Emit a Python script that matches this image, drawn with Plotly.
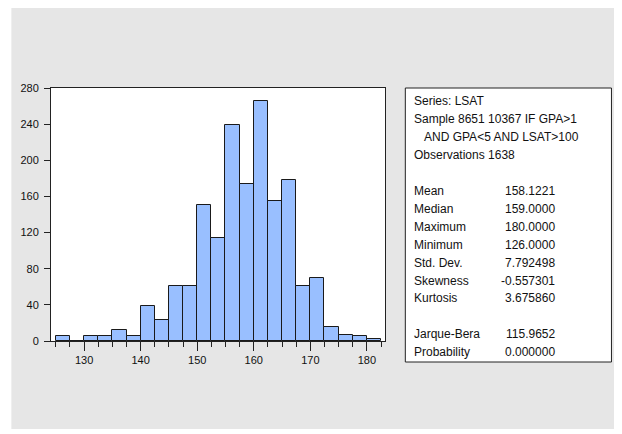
import plotly.graph_objects as go

# ---- data ----
bin_width = 2.5
bin_starts = [125, 127.5, 130, 132.5, 135, 137.5, 140, 142.5, 145, 147.5, 150, 152.5,
              155, 157.5, 160, 162.5, 165, 167.5, 170, 172.5, 175, 177.5, 180]
counts = [5, 0, 6, 5, 12, 6, 39, 23, 61, 61, 150, 114,
          239, 174, 266, 155, 178, 61, 70, 15, 7, 5, 2]

y_ticks = [0, 40, 80, 120, 160, 200, 240, 280]
x_ticks = [130, 140, 150, 160, 170, 180]

header_lines = ["Series: LSAT", "Sample 8651 10367 IF GPA>1", "   AND GPA<5 AND LSAT>100",
                "Observations 1638"]
stat_names = ["Mean", "Median", "Maximum", "Minimum", "Std. Dev.", "Skewness", "Kurtosis"]
stat_values = ["158.1221", "159.0000", "180.0000", "126.0000", "7.792498", "-0.557301", "3.675860"]
test_names = ["Jarque-Bera", "Probability"]
test_values = ["115.9652", "0.000000"]

# ---- layout geometry (screen pixels; page body has an 8px margin) ----
OFF = 8
W, H = 622, 434
L, R, T, B = 48 - OFF, 385 - OFF, 88 - OFF, 341 - OFF
PW, PH = R - L, B - T


def px(x):
    return (x - OFF - L) / PW


def py(y):
    return (B - (y - OFF)) / PH


centers = [s + bin_width / 2 for s in bin_starts]

fig = go.Figure()
fig.add_trace(go.Bar(
    x=centers, y=counts, width=[bin_width] * len(centers),
    marker=dict(color="#99bfff", line=dict(color="#1a1a1a", width=1)),
    hoverinfo="x+y", showlegend=False,
))

font_family = "Liberation Sans, Arial, sans-serif"

shapes = [
    dict(type="rect", xref="paper", yref="paper", layer="below",
         x0=px(8), x1=px(660), y0=py(429), y1=py(-20),
         fillcolor="#e6e6e6", line=dict(width=0)),
    dict(type="rect", xref="paper", yref="paper", layer="below",
         x0=0, x1=1, y0=0, y1=1, fillcolor="white", line=dict(width=0)),
    dict(type="rect", xref="paper", yref="paper",
         x0=px(405.5), x1=px(613.5), y0=py(362), y1=py(88),
         fillcolor="white", line=dict(color="#222222", width=1)),
]

annotations = []
step = 17.95
y0 = 101
label_x = 412
value_right = 559


def add_text(text, x, y, anchor="left"):
    annotations.append(dict(
        text=text,
        x=px(x), y=py(y), xref="paper", yref="paper",
        xanchor=anchor, yanchor="middle", showarrow=False,
        font=dict(family=font_family, size=12, color="#111111"),
    ))


for i, line in enumerate(header_lines):
    if line.startswith(" "):
        add_text(line.strip(), label_x + 10, y0 + i * step)
    else:
        add_text(line, label_x, y0 + i * step)

for j, (n, v) in enumerate(zip(stat_names, stat_values)):
    yy = y0 + (5 + j) * step
    add_text(n, label_x, yy)
    add_text(v, value_right, yy, anchor="right")

for j, (n, v) in enumerate(zip(test_names, test_values)):
    yy = y0 + (13 + j) * step
    add_text(n, label_x, yy)
    add_text(v, value_right, yy, anchor="right")

fig.update_layout(
    width=W, height=H,
    margin=dict(l=L, r=W - R, t=T, b=H - B, pad=0),
    paper_bgcolor="white", plot_bgcolor="white",
    bargap=0,
    font=dict(family=font_family, size=11, color="#111111"),
    shapes=shapes, annotations=annotations,
    xaxis=dict(
        range=[124.15, 183.2], tickmode="array", tickvals=x_ticks,
        ticktext=[str(t) for t in x_ticks],
        ticks="outside", ticklen=9, tickwidth=1, tickcolor="#222222",
        minor=dict(tickmode="linear", tick0=125, dtick=2.5, ticks="outside",
                   ticklen=5, tickwidth=1, tickcolor="#222222", showgrid=False),
        showline=True, linecolor="#222222", linewidth=1, mirror=True,
        showgrid=False, zeroline=False, fixedrange=True,
        tickfont=dict(size=11),
    ),
    yaxis=dict(
        range=[0, 280], tickmode="array", tickvals=y_ticks,
        ticktext=[str(t) for t in y_ticks],
        ticks="outside", ticklen=6, tickwidth=1, tickcolor="#222222",
        showline=True, linecolor="#222222", linewidth=1, mirror=True,
        showgrid=False, zeroline=False, fixedrange=True,
        tickfont=dict(size=11), ticklabelstandoff=3,
    ),
)

fig.write_html("out.html", config={"displayModeBar": False})
